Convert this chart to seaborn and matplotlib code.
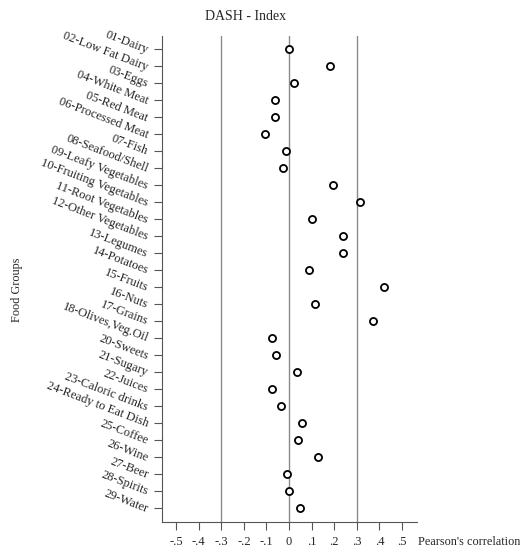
import matplotlib
matplotlib.use("Agg")
import matplotlib.pyplot as plt
import seaborn as sns
import pandas as pd

foods = ["01-Dairy", "02-Low Fat Dairy", "03-Eggs", "04-White Meat", "05-Red Meat",
         "06-Processed Meat", "07-Fish", "08-Seafood/Shell", "09-Leafy Vegetables",
         "10-Fruiting Vegetables", "11-Root Vegetables", "12-Other Vegetables",
         "13-Legumes", "14-Potatoes", "15-Fruits", "16-Nuts", "17-Grains",
         "18-Olives,Veg.Oil", "20-Sweets", "21-Sugary", "22-Juices",
         "23-Caloric drinks", "24-Ready to Eat Dish", "25-Coffee", "26-Wine",
         "27-Beer", "28-Spirits", "29-Water"]
corr = [0.0, 0.18, 0.02, -0.06, -0.06, -0.105, -0.013, -0.025, 0.195,
        0.315, 0.10, 0.24, 0.237, 0.088, 0.42, 0.116, 0.37, -0.074,
        -0.059, 0.035, -0.077, -0.037, 0.059, 0.041, 0.13, -0.009, 0.0, 0.05]
xticks = [-0.5, -0.4, -0.3, -0.2, -0.1, 0, 0.1, 0.2, 0.3, 0.4, 0.5]
xtick_labels = ["-.5", "-.4", "-.3", "-.2", "-.1", "0", ".1", ".2", ".3", ".4", ".5"]
ref_lines = [-0.3, 0, 0.3]

df = pd.DataFrame({"Food": foods, "r": corr})

sns.set_style("white")
plt.rcParams["font.family"] = ["Liberation Serif", "DejaVu Serif"]

fig = plt.figure(figsize=(5.3, 5.5), dpi=100)
ax = fig.add_axes([0.3057, 0.0509, 0.4811, 0.8836])

for v in ref_lines:
    ax.axvline(v, color="#8a8a8a", lw=1.0, zorder=1)

sns.scatterplot(data=df, x="r", y="Food", ax=ax, s=26, facecolor="white",
                edgecolor="black", linewidth=1.3, zorder=3, legend=False)

ax.set_xlim(-0.562, 0.566)
ax.set_ylim(len(foods) - 1 + 0.82, -0.76)
ax.set_xticks(xticks)
ax.set_xticklabels(xtick_labels, fontsize=9)
ax.set_yticks(range(len(foods)))
ax.set_yticklabels(foods, fontsize=9, rotation=-21, ha="right",
                   rotation_mode="anchor")
ax.tick_params(axis="both", direction="out", length=6, width=0.8,
               color="#555555", pad=4, left=True, bottom=True)
ax.set_xlabel("")
ax.set_ylabel("")
for side in ["top", "right"]:
    ax.spines[side].set_visible(False)
for side in ["left", "bottom"]:
    ax.spines[side].set_color("#555555")
    ax.spines[side].set_linewidth(0.8)

fig.text(246 / 530, 1 - 16 / 550, "DASH - Index", fontsize=10,
         ha="center", va="center")
fig.text(418 / 530, 1 - 542 / 550, "Pearson's correlation", fontsize=8.8,
         ha="left", va="center")
fig.text(17 / 530, 1 - 290 / 550, "Food Groups", fontsize=8.8, rotation=90,
         ha="center", va="center")

fig.savefig("out.png", dpi=100)
